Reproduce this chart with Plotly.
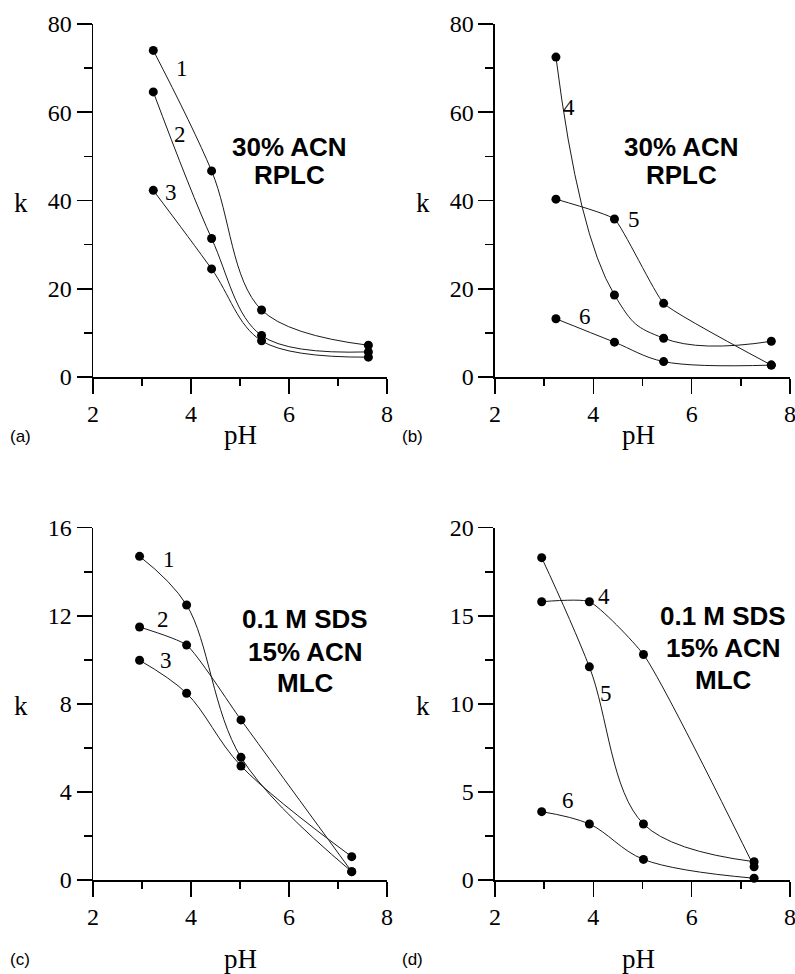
import plotly.graph_objects as go

# ---------------- data ----------------
ph_a = [3.23, 4.42, 5.44, 7.62]
k1_a = [74.0, 46.7, 15.2, 7.2]
k2_a = [64.6, 31.4, 9.4, 5.7]
k3_a = [42.3, 24.5, 8.2, 4.5]

ph_b = [3.24, 4.43, 5.43, 7.62]
k4_b = [72.5, 18.6, 8.8, 8.1]
k5_b = [40.3, 35.8, 16.7, 2.7]
k6_b = [13.2, 7.9, 3.5, 2.7]

ph_c = [2.95, 3.91, 5.02, 7.28]
k1_c = [14.7, 12.49, 5.57, 0.38]
k2_c = [11.49, 10.67, 7.27, 0.38]
k3_c = [9.98, 8.48, 5.18, 1.06]

ph_d = [2.95, 3.92, 5.02, 7.27]
k4_d = [15.8, 15.8, 12.8, 0.75]
k5_d = [18.3, 12.1, 3.18, 1.04]
k6_d = [3.88, 3.18, 1.17, 0.1]

panel_letters = ["(a)", "(b)", "(c)", "(d)"]
cond_ab = ["30% ACN", "RPLC"]
cond_cd = ["0.1 M SDS", "15% ACN", "MLC"]

# ---------------- styling ----------------
SERIF = "Liberation Serif, Times New Roman, serif"
SANS = "Liberation Sans, Arial, sans-serif"
LINE = "#1a1a1a"

fig = go.Figure()

panels = [
    ("x", "y", ph_a, [("1", k1_a, 1.0), ("2", k2_a, 1.0), ("3", k3_a, 1.0)]),
    ("x2", "y2", ph_b, [("4", k4_b, 1.3), ("5", k5_b, 0.35), ("6", k6_b, 1.0)]),
    ("x3", "y3", ph_c, [("1", k1_c, 1.0), ("2", k2_c, 0.5), ("3", k3_c, 1.0)]),
    ("x4", "y4", ph_d, [("4", k4_d, 0.5), ("5", k5_d, 1.0), ("6", k6_d, 1.0)]),
]
for xa, ya, ph, series in panels:
    for name, ks, sm in series:
        fig.add_trace(go.Scatter(
            x=ph, y=ks, xaxis=xa, yaxis=ya, name=name,
            mode="lines+markers",
            line=dict(color=LINE, width=1, shape="spline", smoothing=sm),
            marker=dict(color="black", size=9),
            cliponaxis=False, showlegend=False, hoverinfo="skip",
        ))

xdom_l = [0.1170, 0.4868]
xdom_r = [0.6226, 0.9937]
ydom_t = [0.6129, 0.9754]
ydom_b = [0.0965, 0.4582]


def xaxis(domain, anchor):
    return dict(domain=domain, anchor=anchor, range=[2, 8], tick0=2, dtick=2,
                automargin=False, ticklabeloverflow="allow",
                ticks="outside", ticklen=15, tickwidth=1.5, tickcolor="black",
                showline=True, linewidth=1.5, linecolor="black",
                showgrid=False, zeroline=False,
                minor=dict(dtick=1, ticks="outside", ticklen=7,
                           tickwidth=1.5, tickcolor="black", showgrid=False),
                tickfont=dict(family=SERIF, size=24, color="black"),
                fixedrange=True)


def yaxis(domain, anchor, top, dt):
    return dict(domain=domain, anchor=anchor, range=[0, top], tick0=0, dtick=dt,
                automargin=False, ticklabeloverflow="allow",
                ticks="outside", ticklen=15, tickwidth=1.5, tickcolor="black",
                showline=True, linewidth=1.5, linecolor="black",
                showgrid=False, zeroline=False,
                minor=dict(dtick=dt / 2, ticks="outside", ticklen=8,
                           tickwidth=1.5, tickcolor="black", showgrid=False),
                tickfont=dict(family=SERIF, size=24, color="black"),
                fixedrange=True)


fig.update_layout(
    template="none",
    width=795, height=974,
    margin=dict(l=0, r=0, t=0, b=0, pad=0),
    paper_bgcolor="white", plot_bgcolor="white",
    hovermode=False,
    xaxis=xaxis(xdom_l, "y"), yaxis=yaxis(ydom_t, "x", 80, 20),
    xaxis2=xaxis(xdom_r, "y2"), yaxis2=yaxis(ydom_t, "x2", 80, 20),
    xaxis3=xaxis(xdom_l, "y3"), yaxis3=yaxis(ydom_b, "x3", 16, 4),
    xaxis4=xaxis(xdom_r, "y4"), yaxis4=yaxis(ydom_b, "x4", 20, 5),
)

ann = []


def num(txt, x, y, xr, yr):
    ann.append(dict(text=txt, x=x, y=y, xref=xr, yref=yr, showarrow=False,
                    font=dict(family=SERIF, size=23, color="black")))


def bold(txt, x, y, xr, yr):
    ann.append(dict(text="<b>%s</b>" % txt, x=x, y=y, xref=xr, yref=yr,
                    showarrow=False,
                    font=dict(family=SANS, size=26, color="black")))


# curve numbers
num("1", 3.81, 69.8, "x", "y")
num("2", 3.78, 54.9, "x", "y")
num("3", 3.59, 41.8, "x", "y")
num("4", 3.50, 61.0, "x2", "y2")
num("5", 4.83, 35.6, "x2", "y2")
num("6", 3.83, 13.8, "x2", "y2")
num("1", 3.56, 14.56, "x3", "y3")
num("2", 3.42, 11.84, "x3", "y3")
num("3", 3.49, 9.99, "x3", "y3")
num("4", 4.22, 16.1, "x4", "y4")
num("5", 4.26, 10.6, "x4", "y4")
num("6", 3.48, 4.5, "x4", "y4")

# condition texts
for t, k in zip(cond_ab, [52.2, 45.8]):
    bold(t, 6.02, k, "x", "y")
    bold(t, 5.80, k, "x2", "y2")
for t, k in zip(cond_cd, [11.85, 10.35, 8.95]):
    bold(t, 6.33, k, "x3", "y3")
for t, k in zip(cond_cd, [15.0, 13.16, 11.36]):
    bold(t, 6.64, k, "x4", "y4")

# axis titles and panel letters (paper coords)
W, H = 795.0, 974.0


def paper_text(txt, px, py, fam, size):
    ann.append(dict(text=txt, x=px / W, y=1 - py / H, xref="paper", yref="paper",
                    showarrow=False, xanchor="center", yanchor="middle",
                    font=dict(family=fam, size=size, color="black")))


for px, py in [(21, 203), (423, 203), (21, 706), (423, 706)]:
    paper_text("k", px, py, SERIF, 27)
for px, py in [(240, 435), (638, 435), (240, 959), (638, 959)]:
    paper_text("pH", px, py, SERIF, 27)
for t, (px, py) in zip(panel_letters, [(20, 436), (412, 436), (20, 959), (412, 959)]):
    paper_text(t, px, py, SANS, 17)

fig.update_layout(annotations=ann)

fig.write_html(
    "out.html",
    config={"displayModeBar": False, "staticPlot": True},
    post_script="document.body.style.margin='0';document.body.style.overflow='hidden';",
)
